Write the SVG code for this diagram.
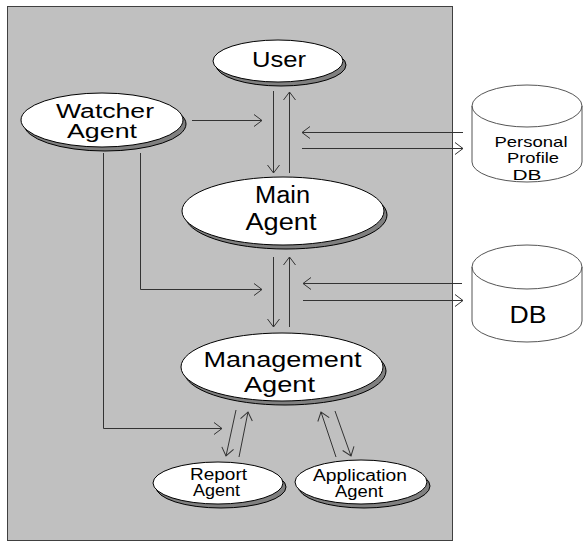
<svg xmlns="http://www.w3.org/2000/svg" width="583" height="542" viewBox="0 0 583 542">
<style>
.bg{fill:#c0c0c0;stroke:#404040;stroke-width:1}
.sh{fill:#808080;stroke:#000;stroke-width:1}
.el{fill:#fff;stroke:#000;stroke-width:1}
.cy{fill:#fff;stroke:#555;stroke-width:1}
.cyl{fill:none;stroke:#555;stroke-width:1}
.t{font-family:"Liberation Sans",Arial,sans-serif;fill:#000;text-anchor:middle}
.c{fill:none;stroke:#333;stroke-width:1;marker-end:url(#ah)}
</style>
<defs>
<marker id="ah" viewBox="-10 -10 20 20" markerWidth="20" markerHeight="20" refX="0" refY="0" orient="auto" markerUnits="userSpaceOnUse">
<path d="M-8,-6 L0,0 L-8,6" fill="none" stroke="#333" stroke-width="1"/>
</marker>
</defs>
<rect class="bg" x="7.5" y="6.5" width="445" height="534"/>

<g id="connectors">
<line class="c" x1="192" y1="120.5" x2="262" y2="120.5"/>
<line class="c" x1="273.5" y1="91" x2="273.5" y2="173"/>
<line class="c" x1="289.5" y1="173" x2="289.5" y2="92"/>
<line class="c" x1="463" y1="132.5" x2="302" y2="132.5"/>
<line class="c" x1="302" y1="148.5" x2="463" y2="148.5"/>
<polyline class="c" points="140.5,153 140.5,289.5 262,289.5"/>
<line class="c" x1="273.5" y1="257" x2="273.5" y2="327"/>
<line class="c" x1="289.5" y1="327" x2="289.5" y2="257"/>
<line class="c" x1="462" y1="283.5" x2="303" y2="283.5"/>
<line class="c" x1="303" y1="300.5" x2="463" y2="300.5"/>
<polyline class="c" points="103.5,153 103.5,428.5 222,428.5"/>
<line class="c" x1="236" y1="410" x2="226" y2="456"/>
<line class="c" x1="239" y1="457" x2="248" y2="412"/>
<line class="c" x1="336" y1="457" x2="321" y2="412"/>
<line class="c" x1="335" y1="411" x2="351" y2="456"/>
</g>

<g id="user">
<ellipse class="sh" cx="281" cy="65" rx="65" ry="21"/>
<ellipse class="el" cx="278" cy="61" rx="65" ry="21"/>
<text class="t" x="279" y="67" font-size="22" textLength="54" lengthAdjust="spacingAndGlyphs">User</text>
</g>

<g id="watcher">
<ellipse class="sh" cx="105" cy="124" rx="81" ry="27"/>
<ellipse class="el" cx="102" cy="120" rx="81" ry="27"/>
<text class="t" x="105" y="118" font-size="20" textLength="98" lengthAdjust="spacingAndGlyphs">Watcher</text>
<text class="t" x="102" y="138" font-size="20" textLength="70" lengthAdjust="spacingAndGlyphs">Agent</text>
</g>

<g id="main">
<ellipse class="sh" cx="286" cy="215" rx="101" ry="34"/>
<ellipse class="el" cx="283" cy="211" rx="101" ry="34"/>
<text class="t" x="282.5" y="203" font-size="23" textLength="55" lengthAdjust="spacingAndGlyphs">Main</text>
<text class="t" x="281" y="230" font-size="23" textLength="71" lengthAdjust="spacingAndGlyphs">Agent</text>
</g>

<g id="management">
<ellipse class="sh" cx="285" cy="371" rx="101" ry="34"/>
<ellipse class="el" cx="282" cy="367" rx="101" ry="34"/>
<text class="t" x="282.5" y="367" font-size="22" textLength="158" lengthAdjust="spacingAndGlyphs">Management</text>
<text class="t" x="279.5" y="392" font-size="22" textLength="71" lengthAdjust="spacingAndGlyphs">Agent</text>
</g>

<g id="report">
<ellipse class="sh" cx="221" cy="487" rx="65" ry="21"/>
<ellipse class="el" cx="218" cy="483" rx="65" ry="21"/>
<text class="t" x="218.5" y="480" font-size="16" textLength="57" lengthAdjust="spacingAndGlyphs">Report</text>
<text class="t" x="216.5" y="496" font-size="16" textLength="47" lengthAdjust="spacingAndGlyphs">Agent</text>
</g>

<g id="application">
<ellipse class="sh" cx="364" cy="486" rx="66" ry="22"/>
<ellipse class="el" cx="361" cy="482" rx="66" ry="22"/>
<text class="t" x="360" y="481" font-size="16" textLength="94" lengthAdjust="spacingAndGlyphs">Application</text>
<text class="t" x="359" y="497" font-size="16" textLength="48" lengthAdjust="spacingAndGlyphs">Agent</text>
</g>

<g id="personal-profile-db">
<path class="cy" d="M472,106 A55,21 0 0 1 582,106 L582,162 A55,20 0 0 1 472,162 Z"/>
<path class="cyl" d="M472,106 A55,21 0 0 0 582,106"/>
<text class="t" x="531" y="147" font-size="15" textLength="73" lengthAdjust="spacingAndGlyphs">Personal</text>
<text class="t" x="533" y="163" font-size="15" textLength="52" lengthAdjust="spacingAndGlyphs">Profile</text>
<text class="t" x="527" y="180" font-size="15" textLength="29" lengthAdjust="spacingAndGlyphs">DB</text>
</g>

<g id="db">
<path class="cy" d="M472,267 A55,22 0 0 1 582,267 L582,321 A55,21 0 0 1 472,321 Z"/>
<path class="cyl" d="M472,267 A55,22 0 0 0 582,267"/>
<text class="t" x="528" y="323" font-size="24" textLength="37" lengthAdjust="spacingAndGlyphs">DB</text>
</g>
</svg>
